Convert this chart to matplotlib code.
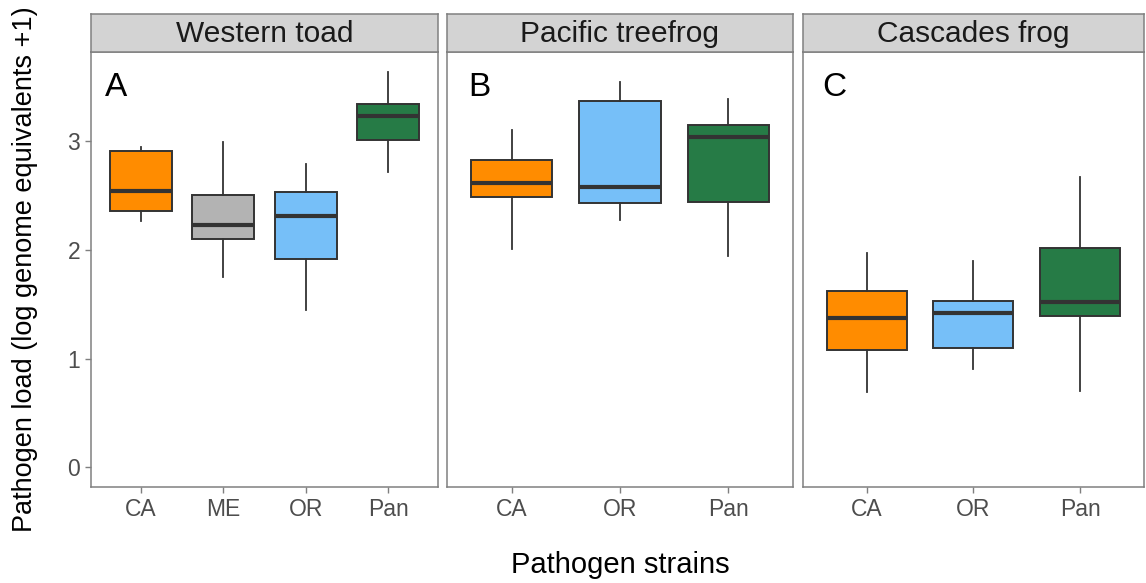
import matplotlib
matplotlib.use("Agg")
import matplotlib.pyplot as plt

plt.rcParams['font.family'] = ['Liberation Sans', 'DejaVu Sans']

hosts = ['Western toad', 'Pacific treefrog', 'Cascades frog']
panel_tags = ['A', 'B', 'C']
strains = [['CA', 'ME', 'OR', 'Pan'], ['CA', 'OR', 'Pan'], ['CA', 'OR', 'Pan']]

# five-number summaries: whisker low, q1, median, q3, whisker high
western_toad = [
    [2.27, 2.36, 2.54, 2.91, 2.95],
    [1.75, 2.10, 2.23, 2.51, 2.99],
    [1.45, 1.92, 2.31, 2.53, 2.79],
    [2.72, 3.01, 3.23, 3.34, 3.64],
]
pacific_treefrog = [
    [2.01, 2.49, 2.62, 2.83, 3.10],
    [2.28, 2.43, 2.58, 3.37, 3.55],
    [1.94, 2.44, 3.04, 3.15, 3.39],
]
cascades_frog = [
    [0.69, 1.08, 1.37, 1.62, 1.97],
    [0.90, 1.10, 1.42, 1.53, 1.90],
    [0.70, 1.39, 1.52, 2.02, 2.67],
]
all_stats = [western_toad, pacific_treefrog, cascades_frog]

strain_colors = {'CA': '#FF8C00', 'ME': '#B3B3B3', 'OR': '#76BFF8', 'Pan': '#267B46'}

fig = plt.figure(figsize=(11.46, 5.83), dpi=100)
W, H = 1146, 583
lefts = [91.3, 446.7, 802.7]
widths = [346.4, 346.6, 341.3]
top, bottom, strip_top = 52.3, 486.7, 14.0
border = '#808080'

for i in range(3):
    ax = fig.add_axes([lefts[i] / W, 1 - bottom / H, widths[i] / W, (bottom - top) / H])
    stats = []
    for lab, s in zip(strains[i], all_stats[i]):
        stats.append(dict(label=lab, whislo=s[0], q1=s[1], med=s[2], q3=s[3], whishi=s[4]))
    pos = list(range(1, len(stats) + 1))
    bp = ax.bxp(stats, positions=pos, widths=0.75, showcaps=False, showfliers=False,
                patch_artist=True,
                boxprops=dict(edgecolor='#333333', linewidth=1.4),
                whiskerprops=dict(color='#333333', linewidth=1.3),
                medianprops=dict(color='#333333', linewidth=3))
    for patch, lab in zip(bp['boxes'], strains[i]):
        patch.set_facecolor(strain_colors[lab])
    ax.set_xlim(0.4, len(stats) + 0.6)
    ax.set_ylim(-0.18, 3.82)
    ax.set_xticks(pos)
    ax.set_xticklabels(strains[i])
    ax.set_yticks([0, 1, 2, 3])
    if i > 0:
        ax.tick_params(axis='y', left=False, labelleft=False)
    ax.tick_params(colors='#7f7f7f', labelcolor='#4D4D4D', labelsize=16.5, length=4, width=1, pad=4)
    for sp in ax.spines.values():
        sp.set_color(border)
        sp.set_linewidth(1.1)
    ax.text(0.7, 3.5, panel_tags[i], ha='center', va='center', fontsize=24, color='black')

    sax = fig.add_axes([lefts[i] / W, 1 - top / H, widths[i] / W, (top - strip_top) / H])
    sax.set_facecolor('#D3D3D3')
    sax.set_xticks([])
    sax.set_yticks([])
    for sp in sax.spines.values():
        sp.set_color(border)
        sp.set_linewidth(1.1)
    sax.text(0.5, 0.47, hosts[i], ha='center', va='center', fontsize=21.5, color='#1A1A1A',
             transform=sax.transAxes)

fig.text(620 / W, 1 - 565 / H, 'Pathogen strains', ha='center', va='center', fontsize=21)
fig.text(25 / W, 1 - 269 / H, 'Pathogen load (log genome equivalents +1)', ha='center',
         va='center', rotation=90, fontsize=19.5)

fig.savefig('out.png', dpi=100)
